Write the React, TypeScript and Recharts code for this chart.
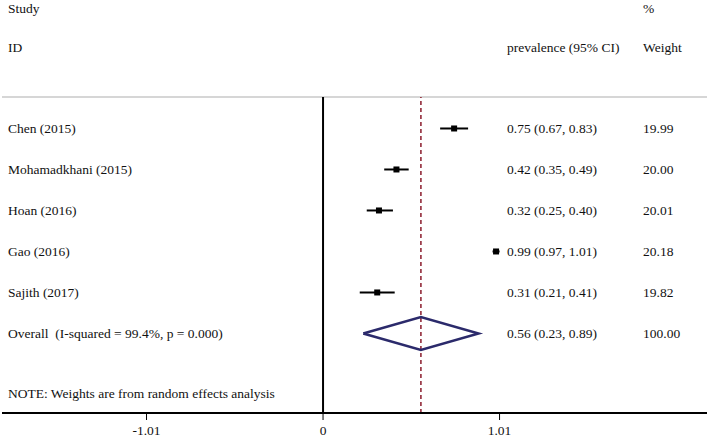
import React from 'react';
import { ComposedChart, XAxis, YAxis, Scatter, ErrorBar, ReferenceLine, Customized } from 'recharts';

const studies = ['Chen (2015)', 'Mohamadkhani (2015)', 'Hoan (2016)', 'Gao (2016)', 'Sajith (2017)'];
const estimates = [0.75, 0.42, 0.32, 0.99, 0.31];
const lowerCI = [0.67, 0.35, 0.25, 0.97, 0.21];
const upperCI = [0.83, 0.49, 0.40, 1.01, 0.41];
const weights = ['19.99', '20.00', '20.01', '20.18', '19.82'];

const overallLabel = 'Overall  (I-squared = 99.4%, p = 0.000)';
const overallEst = 0.56;
const overallLo = 0.23;
const overallHi = 0.89;
const overallWeight = '100.00';

const xTicks = [-1.01, 0, 1.01];
const xTickLabels = ['-1.01', '0', '1.01'];
const noteText = 'NOTE: Weights are from random effects analysis';

const FONT = "'Liberation Serif', 'Times New Roman', Times, serif";
const FS = 13.5;
const COL_EST = 507;
const COL_W = 643;
const COL_LABEL = 8;
const Y_MIN = 0.232;
const Y_MAX = 7.94;

const fmt = (v: number) => v.toFixed(2);

const studyData = studies.map((s, i) => ({
  x: estimates[i],
  y: i + 1,
  err: [estimates[i] - lowerCI[i], upperCI[i] - estimates[i]],
  study: s,
  text: `${fmt(estimates[i])} (${fmt(lowerCI[i])}, ${fmt(upperCI[i])})`,
  weight: weights[i],
}));

const overallRow = studies.length + 1;
const diamondHalf = 0.4;
const diamondData = [
  { x: overallLo, y: overallRow },
  { x: overallEst, y: overallRow - diamondHalf },
  { x: overallHi, y: overallRow },
  { x: overallEst, y: overallRow + diamondHalf },
  { x: overallLo, y: overallRow },
];
const overallData = [
  {
    x: overallEst,
    y: overallRow,
    study: overallLabel,
    text: `${fmt(overallEst)} (${fmt(overallLo)}, ${fmt(overallHi)})`,
    weight: overallWeight,
  },
];
const noteRow = overallRow + 1.46;

const txtStyle: React.CSSProperties = { fontFamily: FONT, fontSize: FS, fill: '#111', whiteSpace: 'pre' };

const RowTexts = ({ cy, payload }: any) => (
  <g>
    <text x={COL_LABEL} y={cy} dy="0.35em" style={txtStyle}>{payload.study}</text>
    <text x={COL_EST} y={cy} dy="0.35em" style={txtStyle}>{payload.text}</text>
    <text x={COL_W} y={cy} dy="0.35em" style={txtStyle}>{payload.weight}</text>
  </g>
);

const StudyShape = (props: any) => {
  const { cx, cy } = props;
  return (
    <g>
      <rect x={cx - 3} y={cy - 3} width={6} height={6} fill="#000" />
      <RowTexts {...props} />
    </g>
  );
};

const NoteShape = (props: any) => (
  <text x={COL_LABEL} y={props.cy} dy="0.35em" style={txtStyle}>{noteText}</text>
);

const Headers = () => (
  <g>
    <text x={COL_LABEL} y={12.5} style={txtStyle}>Study</text>
    <text x={COL_LABEL} y={52} style={txtStyle}>ID</text>
    <text x={COL_W} y={12.5} style={txtStyle}>%</text>
    <text x={COL_EST} y={52} style={txtStyle}>prevalence (95% CI)</text>
    <text x={COL_W} y={52} style={txtStyle}>Weight</text>
  </g>
);

export default function App() {
  return (
    <div style={{ position: 'absolute', left: 0, top: 0, width: 709, height: 439, background: '#fff' }}>
      <ComposedChart width={709} height={439} margin={{ top: 97, right: 2, bottom: 0, left: 2 }}>
        <XAxis
          dataKey="x"
          type="number"
          domain={[-1.837, 2.197]}
          allowDataOverflow
          ticks={xTicks}
          tickFormatter={(v: number) => xTickLabels[xTicks.indexOf(v)] ?? String(v)}
          height={26}
          tickSize={7}
          tickMargin={5}
          axisLine={{ stroke: '#000', strokeWidth: 2 }}
          tickLine={{ stroke: '#000', strokeWidth: 1 }}
          tick={{ fontFamily: FONT, fontSize: FS, fill: '#111', style: { fontFamily: FONT } }}
          interval={0}
        />
        <YAxis
          dataKey="y"
          type="number"
          domain={[Y_MIN, Y_MAX]}
          allowDataOverflow
          reversed
          hide
          width={0}
        />
        <ReferenceLine y={Y_MIN} stroke="#c8c8c8" strokeWidth={1.5} ifOverflow="visible" />
        <ReferenceLine x={0} stroke="#000" strokeWidth={2} />
        <ReferenceLine x={overallEst} stroke="#8b1c2c" strokeWidth={1.5} strokeDasharray="4 3" />
        <Scatter
          data={diamondData}
          line={{ stroke: '#2b2a6b', strokeWidth: 2.5 }}
          lineJointType="linear"
          shape={() => <g />}
          isAnimationActive={false}
        />
        <Scatter data={overallData} shape={(p: any) => <RowTexts {...p} />} isAnimationActive={false} />
        <Scatter data={studyData} shape={StudyShape} isAnimationActive={false}>
          <ErrorBar dataKey="err" direction="x" width={0} stroke="#000" strokeWidth={2} />
        </Scatter>
        <Scatter data={[{ x: 0, y: noteRow }]} shape={NoteShape} isAnimationActive={false} />
        <Customized component={Headers} />
      </ComposedChart>
    </div>
  );
}
